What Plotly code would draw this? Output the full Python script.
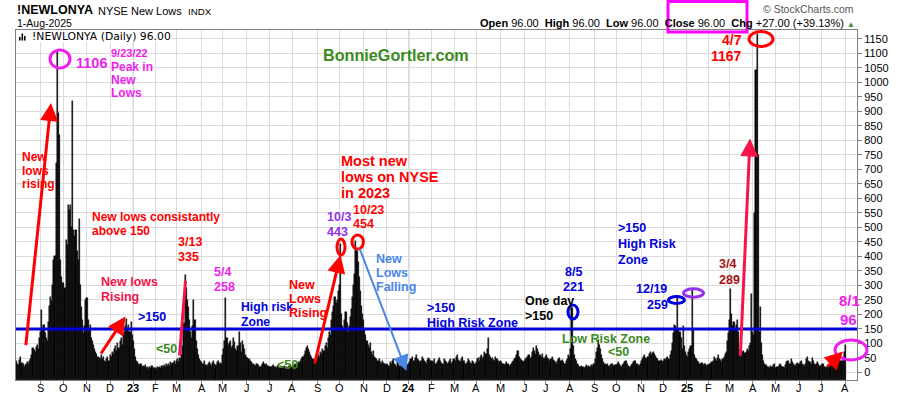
import plotly.graph_objects as go

# ---------------- DATA (daily NYSE new lows, trading days in order) ----------------
nl_2022 = [
    35, 40, 30, 25, 42, 55, 32, 28, 20, 25, 30, 35, 28, 38, 45, 60, 85, 78, 72, 88, 95, 82, 120,          # Aug
    140, 216, 150, 165, 135, 120, 110, 175, 230, 260, 245, 300, 388, 400, 722, 1106, 894, 818, 388, 330, 307,  # Sep
    307, 290, 457, 440, 578, 560, 578, 500, 934, 490, 470, 492, 420, 388, 530, 300, 227, 180, 135, 160, 250,   # Oct
    257, 180, 150, 165, 120, 110, 95, 80, 70, 65, 55, 50, 45, 60, 48, 55, 40, 35, 45, 52, 40,              # Nov
    60, 55, 70, 65, 80, 90, 75, 100, 85, 110, 120, 95, 130, 140, 160, 185, 150, 165, 140, 175, 130,        # Dec
]
nl_2023 = [
    110, 80, 55, 40, 35, 30, 25, 28, 20, 22, 18, 25, 15, 20, 12, 18, 15, 22, 14, 16,                       # Jan
    15, 12, 18, 14, 20, 16, 22, 18, 25, 20, 28, 24, 30, 22, 35, 28, 32, 38, 30,                            # Feb
    40, 45, 35, 50, 48, 60, 90, 170, 335, 290, 250, 225, 180, 140, 120, 160, 250, 180, 110, 80, 60, 45, 40,  # Mar
    35, 30, 28, 40, 25, 22, 30, 35, 28, 24, 32, 38, 30, 26, 35, 40, 28, 33, 30,                            # Apr
    60, 80, 110, 258, 120, 95, 100, 110, 85, 90, 120, 105, 80, 75, 90, 140, 100, 70, 110, 95, 80, 60,      # May
    55, 50, 45, 40, 35, 30, 28, 25, 22, 30, 28, 25, 20, 22, 30, 35, 28, 26, 30, 24, 22,                    # Jun
    20, 18, 22, 25, 20, 18, 15, 22, 20, 16, 14, 18, 20, 22, 17, 19, 15, 20, 24, 25,                        # Jul
    20, 22, 25, 28, 24, 30, 35, 32, 40, 45, 55, 60, 75, 85, 90, 80, 70, 60, 55, 45, 40, 35, 38,            # Aug
    50, 60, 55, 70, 65, 80, 75, 90, 100, 85, 120, 140, 130, 180, 210, 230, 260, 240, 250, 280,             # Sep
    300, 443, 200, 160, 150, 180, 210, 170, 140, 160, 190, 220, 260, 300, 340, 454, 420, 380, 330, 280, 230, 200,  # Oct
    180, 150, 130, 110, 95, 85, 100, 70, 60, 75, 55, 50, 45, 40, 48, 35, 30, 38, 32, 28, 30,               # Nov
    25, 30, 22, 35, 28, 40, 45, 30, 25, 20, 35, 28, 22, 25, 30, 18, 20, 15, 22, 25,                        # Dec
]
nl_2024 = [
    30, 35, 45, 55, 40, 38, 50, 60, 45, 42, 35, 40, 55, 48, 38, 35, 30, 42, 50, 45, 38,                    # Jan
    40, 35, 45, 30, 28, 36, 42, 50, 38, 33, 30, 45, 40, 35, 28, 32, 38, 45, 30, 35,                        # Feb
    45, 40, 55, 60, 42, 38, 35, 48, 52, 40, 30, 28, 35, 45, 38, 32, 30, 40, 35, 28,                        # Mar
    35, 45, 50, 38, 55, 60, 48, 52, 70, 65, 80, 118, 60, 55, 45, 50, 42, 40, 55, 48, 38, 35,               # Apr
    40, 35, 30, 28, 25, 30, 35, 28, 22, 25, 30, 35, 40, 45, 50, 60, 75, 55, 48, 42, 38, 35,                # May
    40, 45, 50, 55, 60, 48, 52, 70, 85, 75, 65, 90, 80, 70, 60, 55, 65, 50, 45,                            # Jun
    55, 60, 50, 45, 40, 48, 55, 42, 38, 35, 30, 40, 45, 50, 38, 42, 35, 30, 28, 40, 45, 60,                # Jul
    55, 80, 221, 90, 60, 45, 40, 30, 25, 20, 18, 22, 20, 15, 18, 25, 20, 22, 18, 20, 25, 22,               # Aug
    30, 45, 70, 85, 113, 95, 80, 60, 45, 35, 30, 25, 28, 22, 20, 25, 30, 28, 22, 25,                       # Sep
    25, 30, 35, 28, 22, 20, 25, 30, 35, 40, 28, 22, 18, 20, 25, 30, 35, 40, 38, 30, 25, 22, 28,            # Oct
    40, 45, 55, 60, 50, 45, 55, 65, 70, 60, 68, 72, 65, 58, 50, 45, 40, 38, 42, 35,                        # Nov
    40, 45, 42, 50, 55, 48, 60, 75, 100, 135, 165, 160, 150, 259, 147, 140, 120, 80, 160, 90, 70,          # Dec
]
nl_2025 = [
    60, 55, 70, 80, 90, 285, 150, 60, 50, 45, 40, 35, 30, 28, 32, 25, 30, 28, 22, 25,                      # Jan
    25, 30, 28, 35, 40, 55, 45, 38, 50, 60, 48, 42, 35, 45, 55, 65, 70, 110, 135,                          # Feb
    180, 289, 200, 160, 175, 150, 165, 181, 140, 60, 55, 65, 70, 75, 66, 70, 82, 75, 90, 100, 270,         # Mar
    140, 130, 550, 1042, 1167, 750, 140, 226, 100, 60, 40, 30, 25, 20, 18, 15, 22, 20, 18, 25, 30,         # Apr
    15, 18, 20, 25, 30, 22, 20, 18, 15, 25, 35, 40, 30, 28, 45, 35, 30, 25, 22, 28, 32,                    # May
    30, 35, 40, 28, 25, 22, 30, 45, 55, 40, 35, 30, 50, 38, 28, 25, 30, 35, 28, 22,                        # Jun
    25, 30, 28, 20, 18, 15, 22, 25, 30, 28, 35, 40, 32, 28, 25, 30, 35, 45, 40, 38, 50, 69,                # Jul
    96,                                                                                                    # Aug 1
]
# trading days per month and month labels
days_2022 = [23, 21, 21, 21, 21]
days_2023 = [20, 19, 23, 19, 22, 21, 20, 23, 20, 22, 21, 20]
days_2024 = [21, 20, 20, 22, 22, 19, 22, 22, 20, 23, 20, 21]
days_2025 = [20, 19, 21, 21, 21, 20, 22, 1]
labels_2022 = ["", "S", "O", "N", "D"]
labels_2023 = ["<b>23</b>", "F", "M", "A", "M", "J", "J", "A", "S", "O", "N", "D"]
labels_2024 = ["<b>24</b>", "F", "M", "A", "M", "J", "J", "A", "S", "O", "N", "D"]
labels_2025 = ["<b>25</b>", "F", "M", "A", "M", "J", "J", "A"]
y_ticks = list(range(0, 1151, 50))

# ---------------- BUILD ----------------
values = nl_2022 + nl_2023 + nl_2024 + nl_2025
idx = list(range(len(values)))
days = days_2022 + days_2023 + days_2024 + days_2025
labels = labels_2022 + labels_2023 + labels_2024 + labels_2025
month_starts = []
s = 0
for d in days:
    month_starts.append(s)
    s += d
year_starts = [month_starts[len(days_2022)],
               month_starts[len(days_2022) + len(days_2023)],
               month_starts[len(days_2022) + len(days_2023) + len(days_2024)]]

W, H = 900, 396
PL, PR, PT, PB = 16, 857, 30, 380
Y_LO, Y_HI = -25.8, 1180.3
X_LO, X_HI = 0.59, 763.6
FONT = "Liberation Sans"


def px(x):
    return (x - PL) / (PR - PL)


def py(y):
    return (PB - y) / (PB - PT)


fig = go.Figure()
fig.add_trace(go.Bar(
    x=idx, y=[v - Y_LO for v in values], base=Y_LO,
    marker=dict(color="black", line=dict(width=0.45, color="black")),
    hoverinfo="skip", showlegend=False,
))

ann = []
shapes = []


def txt(s, x, y, color, size=12.5, anchor="left", bold=True, family=FONT):
    ann.append(dict(text=(f"<b>{s}</b>" if bold else s), x=px(x), y=py(y),
                    xref="paper", yref="paper", xanchor=anchor, yanchor="middle",
                    showarrow=False, borderpad=0,
                    font=dict(family=family, size=size, color=color)))


def arrow(x0, y0, x1, y1, color, width=3, size=1.0):
    ann.append(dict(text="", x=px(x1), y=py(y1), xref="paper", yref="paper",
                    ax=x0 - x1, ay=y0 - y1, axref="pixel", ayref="pixel",
                    showarrow=True, arrowhead=2, arrowsize=size, arrowwidth=width,
                    arrowcolor=color, standoff=0, startstandoff=0))


def ellipse(cx, cy, rx, ry, color, width=3):
    shapes.append(dict(type="circle", xref="paper", yref="paper",
                       x0=px(cx - rx), x1=px(cx + rx), y0=py(cy + ry), y1=py(cy - ry),
                       line=dict(color=color, width=width), layer="above"))


def seg(x0, y0, x1, y1, color, width=3):
    shapes.append(dict(type="line", xref="paper", yref="paper",
                       x0=px(x0), x1=px(x1), y0=py(y0), y1=py(y1),
                       line=dict(color=color, width=width), layer="above"))


RED = "#ff0000"
CRIM = "#f5154a"
MAG = "#ee1eee"
BLUE = "#0000dd"
GREEN = "#3c8a1e"
PURP = "#9530f0"
CORN = "#4a86e8"
DRED = "#a81010"

# month labels under the axis, placed at each month's first trading day
for ms, lab in zip(month_starts, labels):
    if lab:
        ann.append(dict(text=lab, x=ms, xref="x", y=py(388), yref="paper",
                        xanchor="center", yanchor="middle", showarrow=False, borderpad=0,
                        font=dict(family=FONT, size=11, color="black")))

# year grid lines (darker)
for ys in year_starts:
    shapes.append(dict(type="line", xref="x", yref="paper", x0=ys, x1=ys, y0=0, y1=1,
                       line=dict(color="#a8a8a8", width=1), layer="below"))
# 150 threshold line
shapes.append(dict(type="line", xref="paper", yref="y", x0=0, x1=1, y0=150, y1=150,
                   line=dict(color=BLUE, width=3), layer="above"))

# header
txt("!NEWLONYA", 16, 10, "black", size=12.5, anchor="left")
txt("NYSE New Lows", 96.5, 10.5, "black", size=11, bold=False)
txt("INDX", 186.5, 11, "black", size=9.8, bold=False)
txt("1-Aug-2025", 16, 23, "black", size=10.5, bold=False)
txt("© StockCharts.com", 855, 9, "#555555", size=10.5, anchor="right", bold=False)
ann.append(dict(
    text=("<b>Open</b> 96.00  <b>High</b> 96.00  <b>Low</b> 96.00  <b>Close</b> 96.00  "
          "<b>Chg</b> +27.00 (+39.13%) <span style='color:#2e9a2e;font-size:8px'>▲</span>"),
    x=px(856), y=py(23), xref="paper", yref="paper", xanchor="right", yanchor="middle",
    showarrow=False, borderpad=0, font=dict(family=FONT, size=11, color="black")))
shapes.append(dict(type="rect", xref="paper", yref="paper", x0=px(668), x1=px(747),
                   y0=py(32), y1=py(1.5), line=dict(color="#ff00ff", width=3)))

# in-plot legend box
shapes.append(dict(type="rect", xref="paper", yref="paper", x0=px(17), x1=px(172),
                   y0=py(42), y1=py(31), fillcolor="white", line=dict(width=0), layer="above"))
for bx, bt in [(19, 37), (21.5, 33.5), (24, 36)]:
    shapes.append(dict(type="rect", xref="paper", yref="paper", x0=px(bx), x1=px(bx + 1.6),
                       y0=py(40.5), y1=py(bt), fillcolor="black", line=dict(width=0), layer="above"))
txt("!NEWLONYA (Daily) 96.00", 31, 36.5, "black", size=10.8, bold=False, family="DejaVu Sans")

# 2022 annotations
ellipse(60, 59, 10, 9, MAG)
txt("1106", 74.5, 62.5, MAG, size=14.5)
txt("9/23/22", 110, 53, MAG, size=11)
txt("Peak in", 110, 66.5, MAG, size=12)
txt("New", 110, 79.5, MAG, size=12)
txt("Lows", 110, 92.5, MAG, size=12)
txt("BonnieGortler.com", 322, 55, GREEN, size=16.2)
arrow(25.7, 346.7, 51, 103, RED, width=3, size=1.2)
txt("New", 20.5, 157, RED, size=12)
txt("lows", 20.5, 170.5, RED, size=12)
txt("rising", 20.5, 184, RED, size=12)
txt("New lows consistantly", 91, 217, RED, size=12)
txt("above 150", 91, 231, RED, size=12)
txt("New lows", 99.5, 282, CRIM)
txt("Rising", 99.5, 297, CRIM)
arrow(100, 355, 125.5, 316.5, RED, width=3, size=1.2)
txt("&gt;150", 137, 317, BLUE)
txt("&lt;50", 155, 349, GREEN)
# 2023
seg(179.5, 355.5, 185.5, 281, CRIM, width=3)
txt("3/13", 177, 242, RED)
txt("335", 177, 256.5, RED)
txt("5/4", 213, 271.5, MAG)
txt("258", 213, 286.5, MAG)
txt("High risk", 240, 307, BLUE, size=12.2)
txt("Zone", 240, 321.5, BLUE, size=12.2)
txt("&lt;50", 276, 365, GREEN)
txt("New", 288, 285, RED)
txt("Lows", 288, 299, RED)
txt("Rising", 288, 313, RED)
arrow(314.3, 365, 340.5, 255, RED, width=3, size=1.2)
ellipse(341, 247, 4, 8, RED)
ellipse(357.7, 242, 5.7, 7, RED)
txt("10/3", 325.5, 217, PURP)
txt("443", 325.5, 232, PURP)
txt("10/23", 352, 210, RED)
txt("454", 352, 224, RED)
txt("Most new", 340, 160.5, RED, size=14.5)
txt("lows on NYSE", 340, 176.5, RED, size=14.5)
txt("in 2023", 340, 192.5, RED, size=14.5)
arrow(359, 247, 406.5, 371, CORN, width=2, size=1.6)
txt("New", 375, 258.5, CORN)
txt("Lows", 375, 273, CORN)
txt("Falling", 375, 287, CORN)
# 2024
txt("&gt;150", 426, 307.5, BLUE)
txt("High Risk Zone", 426, 323, BLUE)
txt("One day", 524, 300.5, "black")
txt("&gt;150", 524, 315.5, "black")
txt("8/5", 573.5, 272, BLUE, anchor="center")
txt("221", 573.5, 287, BLUE, anchor="center")
ellipse(573, 312, 5, 7, BLUE)
txt("Low Risk Zone", 561, 338.5, GREEN)
txt("&lt;50", 607, 352, GREEN)
txt("&gt;150", 617, 228, BLUE)
txt("High Risk", 617, 244, BLUE)
txt("Zone", 617, 259.5, BLUE)
txt("12/19", 634.5, 288.5, BLUE)
txt("259", 669, 305, BLUE, anchor="right")
ellipse(676.5, 300, 8, 3.5, BLUE)
ellipse(693.5, 293, 10, 4.2, PURP)
# 2025
txt("3/4", 718, 263.5, DRED)
txt("289", 718, 279.5, DRED)
arrow(740.3, 357, 750, 138.5, CRIM, width=3, size=1.2)
txt("4/7", 742.5, 40, RED, size=14, anchor="right")
txt("1167", 743, 55.5, RED, size=14, anchor="right")
ellipse(761, 39, 12, 7.5, RED)
txt("8/1", 838, 300, MAG, size=15)
txt("96", 838.5, 319.5, MAG, size=15)
ellipse(851, 350, 16, 10, MAG)
arrow(826, 368, 843, 351.5, RED, width=3, size=1.2)

fig.update_layout(
    width=W, height=H,
    margin=dict(l=PL, r=W - PR, t=PT, b=H - PB, pad=0),
    paper_bgcolor="white", plot_bgcolor="white",
    bargap=0, showlegend=False,
    font=dict(family=FONT, size=11, color="black"),
    annotations=ann, shapes=shapes,
)
fig.update_xaxes(
    range=[X_LO, X_HI], tickvals=month_starts, showticklabels=False, automargin=False,
    showgrid=True, gridcolor="#dcdcdc", gridwidth=1,
    showline=True, linecolor="#808080", linewidth=1, mirror=True,
    ticks="outside", ticklen=3, tickcolor="#808080", zeroline=False,
)
fig.update_yaxes(
    range=[Y_LO, Y_HI], side="right", tickvals=y_ticks, automargin=False,
    showgrid=True, gridcolor="#dcdcdc", gridwidth=1,
    showline=True, linecolor="#808080", linewidth=1, mirror=True,
    ticks="outside", ticklen=4, tickcolor="#808080",
    tickfont=dict(family=FONT, size=11, color="black"), zeroline=False,
)

fig.write_html("out.html")
